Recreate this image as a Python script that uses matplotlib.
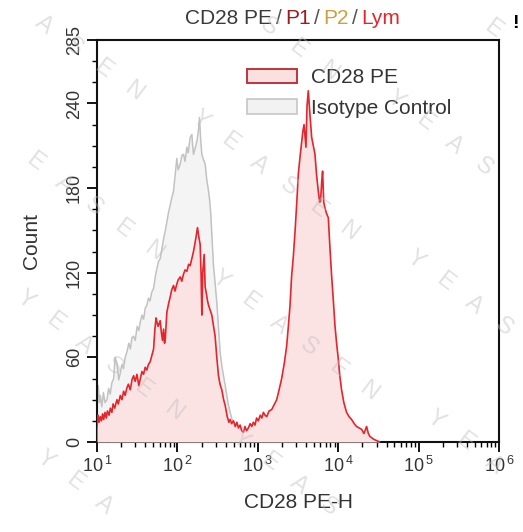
"""CD28 PE staining vs isotype control, flow histogram (Lym gate), re-drawn from the Yeasen figure."""
import numpy as np
import matplotlib; matplotlib.use("Agg"); import matplotlib.pyplot as plt
from matplotlib.patches import Patch
from matplotlib.ticker import FixedLocator, LogLocator, NullFormatter

plt.rcParams["font.family"] = ["Liberation Sans", "DejaVu Sans"]

# log10(PE-H) position and event count
ISO_LOG = [1.000, 1.015, 1.030, 1.041, 1.060, 1.080, 1.100, 1.124, 1.145, 1.165, 1.185, 1.207, 1.225, 1.248,
           1.270, 1.290, 1.310, 1.330, 1.350, 1.373, 1.395, 1.415, 1.435, 1.455, 1.475, 1.500, 1.520, 1.538,
           1.560, 1.580, 1.600, 1.621, 1.640, 1.660, 1.680, 1.704, 1.725, 1.745, 1.765, 1.786, 1.805, 1.828,
           1.850, 1.869, 1.890, 1.911, 1.930, 1.952, 1.970, 1.993, 2.010, 2.035, 2.055, 2.076, 2.095, 2.118,
           2.135, 2.159, 2.180, 2.190, 2.200, 2.220, 2.242, 2.260, 2.275, 2.290, 2.304, 2.325, 2.345, 2.365,
           2.387, 2.400, 2.416, 2.430, 2.449, 2.470, 2.490, 2.510, 2.531, 2.550, 2.573, 2.595, 2.614, 2.635,
           2.656, 2.680, 2.710, 2.750, 2.800, 2.850, 2.920, 3.000, 3.100, 3.300]
ISO_CNT = [26, 40, 28, 33, 25, 35, 28, 30, 38, 34, 42, 45, 60, 56,
           44, 49, 55, 52, 60, 64, 70, 66, 74, 75, 72, 82, 79, 85,
           90, 87, 95, 97, 102, 100, 106, 109, 117, 123, 128, 130, 136, 144,
           150, 156, 163, 168, 173, 178, 188, 201, 193, 197, 203, 204, 199, 209,
           205, 216, 218, 210, 204, 208, 213, 220, 230, 214, 204, 200, 197, 186,
           178, 172, 161, 145, 125, 112, 99, 82, 64, 55, 47, 40, 33, 26,
           21, 16, 13, 10, 7, 5, 3, 2, 1, 0]

CD28_LOG = [1.000, 1.012, 1.025, 1.040, 1.055, 1.070, 1.083, 1.100, 1.115, 1.130, 1.150, 1.166, 1.185, 1.200,
            1.220, 1.248, 1.265, 1.290, 1.310, 1.331, 1.350, 1.370, 1.390, 1.414, 1.435, 1.455, 1.475, 1.497,
            1.520, 1.540, 1.559, 1.579, 1.600, 1.620, 1.640, 1.662, 1.685, 1.704, 1.720, 1.735, 1.745, 1.760,
            1.786, 1.800, 1.815, 1.828, 1.840, 1.849, 1.869, 1.890, 1.911, 1.930, 1.952, 1.970, 1.993, 2.010,
            2.035, 2.055, 2.076, 2.095, 2.118, 2.140, 2.159, 2.180, 2.200, 2.225, 2.250, 2.265, 2.283, 2.295,
            2.304, 2.315, 2.333, 2.345, 2.358, 2.375, 2.387, 2.405, 2.428, 2.450, 2.469, 2.490, 2.511, 2.530,
            2.552, 2.575, 2.594, 2.620, 2.640, 2.656, 2.675, 2.697, 2.720, 2.740, 2.759, 2.780, 2.800, 2.821,
            2.840, 2.860, 2.883, 2.905, 2.925, 2.945, 2.965, 2.985, 3.007, 3.030, 3.050, 3.070, 3.090, 3.111,
            3.140, 3.173, 3.200, 3.235, 3.265, 3.297, 3.330, 3.359, 3.380, 3.401, 3.421, 3.440, 3.463, 3.485,
            3.504, 3.525, 3.546, 3.560, 3.575, 3.590, 3.599, 3.612, 3.628, 3.645, 3.670, 3.690, 3.711, 3.730,
            3.752, 3.770, 3.781, 3.795, 3.806, 3.820, 3.835, 3.855, 3.877, 3.895, 3.918, 3.940, 3.959, 3.980,
            4.001, 4.020, 4.042, 4.070, 4.104, 4.135, 4.166, 4.200, 4.228, 4.260, 4.291, 4.320, 4.353, 4.375,
            4.394, 4.440, 4.477, 4.518]
CD28_CNT = [11, 19, 14, 18, 15, 20, 16, 21, 17, 22, 19, 24, 21, 27,
            24, 30, 27, 33, 30, 36, 33, 38, 41, 37, 44, 47, 43, 48,
            40, 45, 50, 48, 53, 51, 55, 57, 62, 66, 80, 88, 85, 82,
            86, 78, 72, 80, 70, 73, 92, 98, 103, 108, 111, 107, 112, 115,
            117, 114, 119, 122, 121, 126, 125, 130, 135, 143, 152, 146, 140, 118,
            90, 120, 133, 110, 106, 100, 97, 94, 90, 82, 75, 60, 47, 41,
            37, 30, 26, 18, 14, 16, 13, 15, 11, 14, 10, 12, 8, 7,
            11, 8, 10, 13, 11, 14, 12, 17, 15, 19, 17, 21, 19, 18,
            22, 23, 26, 30, 37, 45, 56, 68, 82, 97, 118, 130, 149, 170,
            190, 202, 213, 220, 225, 215, 209, 238, 249, 235, 216, 210, 204, 190,
            178, 170, 171, 185, 192, 170, 166, 162, 159, 140, 118, 100, 83, 70,
            59, 47, 37, 28, 21, 18, 16, 13, 11, 10, 9, 6, 11, 6,
            4, 2, 1, 0]

Y_TICKS = [0, 60, 120, 180, 240, 285]
X_DECADES = [1, 2, 3, 4, 5, 6]
TITLE_PARTS = [("CD28 PE", "#3a3a3a"), ("/", "#555555"), ("P1", "#9a1c1c"), ("/", "#555555"),
               ("P2", "#c9a23c"), ("/", "#555555"), ("Lym", "#e3262c")]
WATERMARK = "YEASEN"
TXT = "#333333"


def main():
    fig = plt.figure(figsize=(5.23, 5.32), dpi=100)
    ax = fig.add_axes([97/523, 1 - 442/532, 402/523, 402/532])

    xi = 10 ** np.array(ISO_LOG); xc = 10 ** np.array(CD28_LOG)
    ax.fill_between(xi, ISO_CNT, 0, color="#f4f4f4", lw=0, zorder=1)
    ax.plot(xi, ISO_CNT, color="#c2c2c2", lw=1.1, zorder=2)
    ax.fill_between(xc, CD28_CNT, 0, color="#fbe3e3", lw=0, zorder=3)
    ax.plot(xc, CD28_CNT, color="#e6242b", lw=1.2, zorder=4)

    ax.set_xscale("log"); ax.set_xlim(10, 1e6); ax.set_ylim(0, 285)
    ax.xaxis.set_major_locator(FixedLocator([10 ** d for d in X_DECADES]))
    ax.set_xticklabels([r"$\mathregular{10^{\,%d}}$" % d for d in X_DECADES], fontsize=13, color=TXT)
    ax.xaxis.set_minor_locator(LogLocator(base=10, subs=np.arange(2, 10)))
    ax.xaxis.set_minor_formatter(NullFormatter())
    ax.set_yticks(Y_TICKS); ax.set_yticklabels([str(t) for t in Y_TICKS], fontsize=13, color=TXT,
                                               rotation=90, va="center")
    ax.yaxis.set_minor_locator(FixedLocator(np.arange(15, 285, 15)))
    ax.tick_params(which="major", length=7, width=1.3, direction="out", pad=3)
    ax.tick_params(which="minor", length=3.5, width=1.0, direction="out")
    for s in ax.spines.values():
        s.set_linewidth(1.5); s.set_color("#111111")

    ax.set_xlabel("CD28 PE-H", fontsize=15, color=TXT, labelpad=12)
    ax.set_ylabel("Count", fontsize=15, color=TXT, labelpad=18)

    handles = [Patch(facecolor="#fbe0e0", edgecolor="#c0343a", lw=1.4, label="CD28 PE"),
               Patch(facecolor="#f2f2f2", edgecolor="#c6c6c6", lw=1.2, label="Isotype Control")]
    leg = ax.legend(handles=handles, loc="upper left", bbox_to_anchor=(0.372, 0.93), frameon=False,
                    fontsize=15, handlelength=2.4, handleheight=0.7, handletextpad=0.7, labelspacing=0.55,
                    borderaxespad=0, borderpad=0)
    for t in leg.get_texts(): t.set_color(TXT)

    # coloured title, laid out piece by piece
    fig.canvas.draw()
    r = fig.canvas.get_renderer()
    pieces = [fig.text(0, 1 - 18/532, s, color=c, fontsize=15, va="center", ha="left") for s, c in TITLE_PARTS]
    gap = 3.5 / 523
    widths = [p.get_window_extent(r).width / fig.bbox.width for p in pieces]
    x = 293/523 - (sum(widths) + gap * (len(pieces) - 1)) / 2
    for p, w in zip(pieces, widths):
        p.set_x(x); x += w + gap

    fig.text(515/523, 1 - 24/532, "!", fontsize=14, fontweight="bold", ha="center", va="center")

    # YEASEN watermark: letters stepped down-right, words on a loose lattice
    step = (29.6, 22.3)
    for i in range(-2, 3):
        for j in range(-2, 4):
            px = 200 + 215 * i + 20 * j
            py = 120 + 140 * i + 160 * j
            for k, ch in enumerate(WATERMARK):
                lx, ly = px + k * step[0], py + k * step[1]
                if 12 < lx < 506 and 12 < ly < 520:
                    fig.text(lx/523, 1 - ly/532, ch, fontsize=17, color="#bdbdbd", alpha=0.45,
                             rotation=-37, ha="center", va="center", zorder=10)

    fig.savefig("out.png", dpi=100)
    plt.close(fig)


if __name__ == "__main__":
    main()
